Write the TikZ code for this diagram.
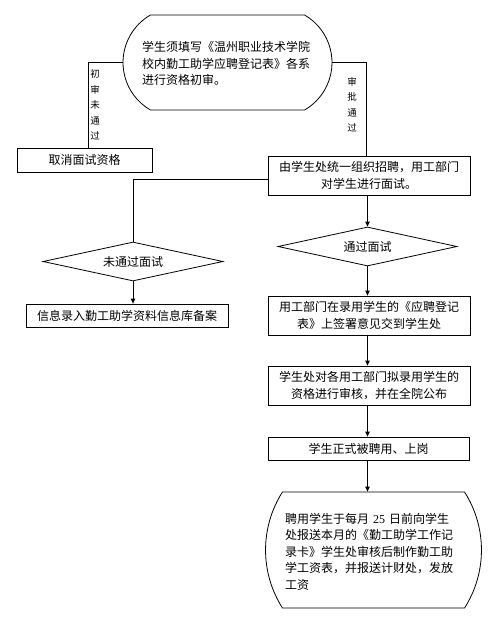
\documentclass[tikz,border=0pt]{standalone}
\usepackage{fontspec}
\setmainfont{Noto Sans CJK SC}
\newfontfamily\numfont{Liberation Serif}
\usetikzlibrary{arrows.meta,shapes.geometric,shapes.misc}
\begin{document}
\begin{tikzpicture}[x=1pt,y=-1pt,
  every node/.style={font=\fontsize{12}{16.5}\selectfont},
  box/.style={draw,line width=0.8pt,rectangle,inner sep=0pt,align=center},
  dia/.style={draw,line width=0.8pt,diamond,inner sep=0pt,aspect=4.6},
  rbox/.style={draw,line width=0.8pt,rounded rectangle,inner sep=0pt},
  vlab/.style={font=\fontsize{9.5}{15.5}\selectfont,align=center,inner sep=0pt},
  line/.style={line width=0.8pt},
  arr/.style={line width=0.8pt,-{Triangle[length=5pt,width=4.5pt]}}]
\useasboundingbox (0,0) rectangle (500,640);
\fill[white] (0,0) rectangle (500,640);

\node[rbox,rounded rectangle arc length=120,minimum width=209pt,minimum height=95pt] (top) at (227.5,62.5) {};
\node[align=left,text width=172pt,inner sep=0pt] (toptext) at (228,63.5) {学生须填写《温州职业技术学院\\校内勤工助学应聘登记表》各系\\进行资格初审。};

\node[box,minimum width=135pt,minimum height=24pt] (cancel) at (84.5,160) {取消面试资格};
\node[box,minimum width=202pt,minimum height=39pt] (recruit) at (369,175.5) {由学生处统一组织招聘，用工部门\\对学生进行面试。};
\node[dia,minimum width=180pt,minimum height=39pt] (fail) at (133,261.5) {};
\node (failtext) at (133,261.5) {未通过面试};
\node[dia,minimum width=179pt,minimum height=39pt] (pass) at (367.5,246.5) {};
\node (passtext) at (367.5,246.5) {通过面试};
\node[box,minimum width=202pt,minimum height=23pt] (record) at (127,315.5) {信息录入勤工助学资料信息库备案};
\node[box,minimum width=202pt,minimum height=39pt] (sign) at (369,315.5) {用工部门在录用学生的《应聘登记\\表》上签署意见交到学生处};
\node[box,minimum width=202pt,minimum height=39pt] (review) at (369,385.5) {学生处对各用工部门拟录用学生的\\资格进行审核，并在全院公布};
\node[box,minimum width=201pt,minimum height=23pt] (hired) at (368.5,448.5) {学生正式被聘用、上岗};
\node[rbox,rounded rectangle arc length=65,minimum width=193pt,minimum height=116pt] (pay) at (373.5,550) {};
\node[align=left,text width=172pt,inner sep=0pt] (paytext) at (371,551.5) {聘用学生于每月 {\numfont 25} 日前向学生\\处报送本月的《勤工助学工作记\\录卡》学生处审核后制作勤工助\\学工资表，并报送计财处，发放\\工资};

\node[vlab] (lab1) at (95,105) {初\\审\\未\\通\\过};
\node[vlab] (lab2) at (352,104.5) {审\\批\\通\\过};

\draw[line] (top.west) -| ([xshift=3.5pt]cancel.north);
\draw[line] (top.east) -| ([xshift=-3pt]recruit.north);
\draw[line] ([yshift=-3.5pt]recruit.west) -| (fail.north);
\draw[arr] (fail.south) -- (fail.south |- record.north);
\draw[arr] ([xshift=-1.5pt]recruit.south) -- (pass.north);
\draw[arr] (pass.south) -- (pass.south |- sign.north);
\draw[arr] (pass.south |- sign.south) -- (pass.south |- review.north);
\draw[arr] (pass.south |- review.south) -- (pass.south |- hired.north);
\draw[arr] (pass.south |- hired.south) -- (pass.south |- pay.north);
\end{tikzpicture}
\end{document}
